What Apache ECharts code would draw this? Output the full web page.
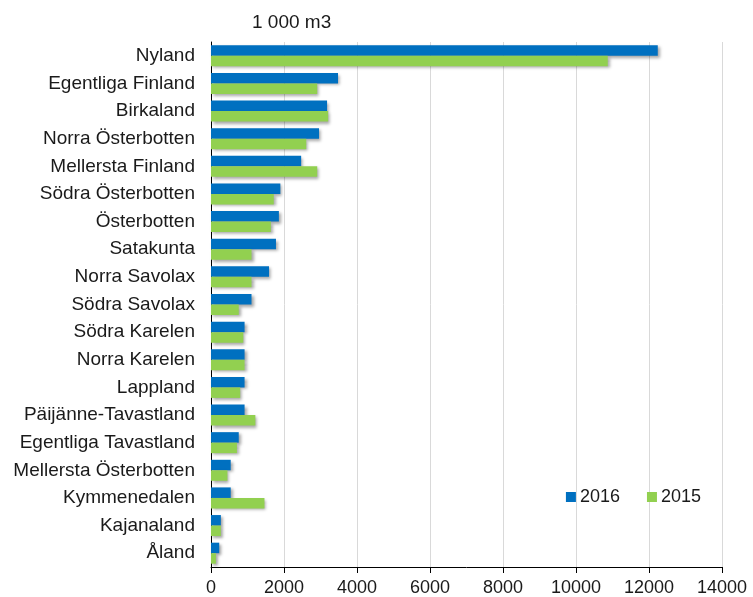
<!DOCTYPE html>
<html>
<head>
<meta charset="utf-8">
<script src="https://cdn.jsdelivr.net/npm/echarts@6/dist/echarts.min.js"></script>
<style>html,body{margin:0;padding:0;background:#fff;}#c{width:753px;height:597px;}</style>
</head>
<body>
<div id="c"></div>
<script>
const categories = ["Nyland","Egentliga Finland","Birkaland","Norra Österbotten","Mellersta Finland","Södra Österbotten","Österbotten","Satakunta","Norra Savolax","Södra Savolax","Södra Karelen","Norra Karelen","Lappland","Päijänne-Tavastland","Egentliga Tavastland","Mellersta Österbotten","Kymmenedalen","Kajanaland","Åland"];
const values2016 = [12240,3480,3180,2960,2470,1900,1860,1780,1590,1110,920,920,920,920,760,540,540,270,225];
const values2015 = [10870,2910,3210,2610,2910,1720,1640,1110,1110,760,885,920,800,1215,710,450,1465,270,135];
const xTicks = [0,2000,4000,6000,8000,10000,12000,14000];
const seriesNames = ["2016","2015"];
const unitLabel = "1 000 m3";

const font = "Liberation Sans, Arial, sans-serif";
const shadow = {shadowColor:'rgba(0,0,0,0.35)',shadowBlur:3,shadowOffsetX:2,shadowOffsetY:2};
const chart = echarts.init(document.getElementById('c'), null, {renderer:'canvas'});
chart.setOption({
  animation:false,
  backgroundColor:'#fff',
  textStyle:{fontFamily:font},
  title:{text:unitLabel,left:252,top:13,padding:0,textStyle:{fontFamily:font,fontSize:19,fontWeight:'normal',color:'#1a1a1a'}},
  legend:{
    data:seriesNames,right:52,top:488,padding:0,itemWidth:10,itemHeight:10,itemGap:27,icon:'rect',
    textStyle:{fontFamily:font,fontSize:18,color:'#1a1a1a',padding:[0,0,0,-1]}
  },
  grid:{left:211,right:31,top:42,bottom:30,containLabel:false},
  xAxis:{
    type:'value',min:xTicks[0],max:xTicks[xTicks.length-1],interval:2000,
    axisLine:{show:true,lineStyle:{color:'#000',width:1}},
    axisTick:{show:true,length:6,lineStyle:{color:'#000'}},
    axisLabel:{fontFamily:font,fontSize:18,color:'#1a1a1a',margin:12,formatter:v=>String(v)},
    splitLine:{show:true,lineStyle:{color:'#d9d9d9',width:1}}
  },
  yAxis:{
    type:'category',data:categories,inverse:true,
    axisLine:{show:true,lineStyle:{color:'#000',width:1}},
    axisTick:{show:false},
    axisLabel:{fontFamily:font,fontSize:19,color:'#1a1a1a',margin:16}
  },
  series:[
    {name:seriesNames[0],type:'bar',data:values2016,barGap:'0%',barCategoryGap:'24%',itemStyle:Object.assign({color:'#0070c0'},shadow)},
    {name:seriesNames[1],type:'bar',data:values2015,barGap:'0%',barCategoryGap:'24%',itemStyle:Object.assign({color:'#92d050'},shadow)}
  ]
});
</script>
</body>
</html>
